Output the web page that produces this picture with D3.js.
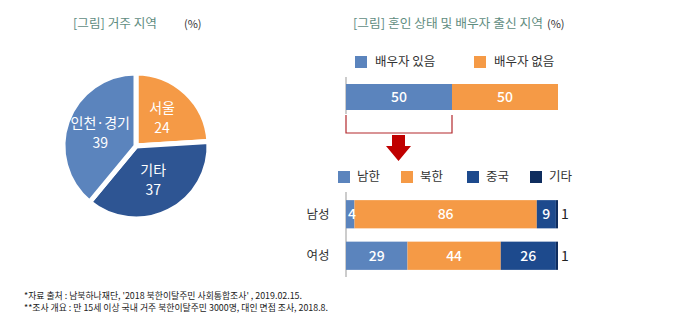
<!DOCTYPE html>
<html>
<head>
<meta charset="utf-8">
<script src="https://cdn.jsdelivr.net/npm/d3@7"></script>
<style>
  html, body { margin: 0; padding: 0; background: #fff; }
  svg { display: block; font-family: "Noto Sans CJK KR", "Noto Sans", sans-serif; }
</style>
</head>
<body>
<svg id="chart" width="690" height="326"></svg>
<script>
// ---- data ----
const regionLabels = ["서울", "기타", "인천·경기"];
const regionValues = [24, 37, 39];

const spouseLabels = ["배우자 있음", "배우자 없음"];
const spouseValues = [50, 50];

const originLabels = ["남한", "북한", "중국", "기타"];
const genderLabels = ["남성", "여성"];
const maleValues = [4, 86, 9, 1];
const femaleValues = [29, 44, 26, 1];

const notes = [
  "*자료 출처 : 남북하나재단, '2018 북한이탈주민 사회통합조사' , 2019.02.15.",
  "**조사 개요 : 만 15세 이상 국내 거주 북한이탈주민 3000명, 대인 면접 조사, 2018.8."
];

// ---- styles ----
const cLight = "#5b84bd", cOrange = "#f59a46", cDark = "#2e5593";
const cChina = "#1d4a8d", cOther = "#0f2d5e";
const titleColor = "#5f8d7f";

const svg = d3.select("#chart");

// ---- titles ----
function title(x, y, txt, len) {
  svg.append("text").attr("x", x).attr("y", y)
    .attr("font-size", 12.5).attr("fill", titleColor)
    .attr("textLength", len).attr("lengthAdjust", "spacingAndGlyphs")
    .text(txt);
}
title(73, 28, "[그림] 거주 지역", 84);
svg.append("text").attr("x", 184).attr("y", 28).attr("font-size", 11)
  .attr("fill", "#333").text("(%)");
title(353, 28, "[그림] 혼인 상태 및 배우자 출신 지역", 190);
svg.append("text").attr("x", 547).attr("y", 28).attr("font-size", 11)
  .attr("fill", "#333").text("(%)");

// ---- pie: residence ----
const pieG = svg.append("g").attr("transform", "translate(136,146)");
const pie = d3.pie().sort(null).value(d => d)(regionValues);
const arc = d3.arc().innerRadius(0).outerRadius(73);
const labelArc = d3.arc().innerRadius(38).outerRadius(38);
const pieColors = [cOrange, cDark, cLight];

pieG.selectAll("path").data(pie).join("path")
  .attr("d", arc)
  .attr("fill", (d, i) => pieColors[i])
  .attr("stroke", "#fff").attr("stroke-width", 5).attr("stroke-linejoin", "miter");

pie.forEach((d, i) => {
  const [lx, ly] = labelArc.centroid(d);
  const t = pieG.append("text")
    .attr("text-anchor", "middle").attr("fill", "#fff").attr("font-size", 14);
  t.append("tspan").attr("x", lx).attr("y", ly - 5).text(regionLabels[i]);
  t.append("tspan").attr("x", lx).attr("y", ly + 15).text(regionValues[i]);
});

// ---- shared horizontal scale ----
const x = d3.scaleLinear().domain([0, 100]).range([346, 558]);

function stack(values) {
  let acc = 0;
  return values.map(v => { const s = acc; acc += v; return { v, x0: s, x1: acc }; });
}

// ---- legend helper ----
function legend(items, colors, xs, y, textOffset) {
  items.forEach((lab, i) => {
    svg.append("rect").attr("x", xs[i]).attr("y", y - 6)
      .attr("width", 12).attr("height", 12).attr("fill", colors[i]);
    svg.append("text").attr("x", xs[i] + textOffset).attr("y", y)
      .attr("dy", "0.35em").attr("font-size", 12.5).attr("fill", "#333").text(lab);
  });
}

// ---- marital status bar ----
legend(spouseLabels, [cLight, cOrange], [355, 474], 62, 20);

const topY = 84, topH = 26;
svg.append("line").attr("x1", x(0)).attr("x2", x(0)).attr("y1", 77).attr("y2", 114)
  .attr("stroke", "#999").attr("stroke-width", 1);
const topSegs = stack(spouseValues);
svg.selectAll(".topbar").data(topSegs).join("rect")
  .attr("x", d => x(d.x0)).attr("y", topY)
  .attr("width", d => x(d.x1) - x(d.x0)).attr("height", topH)
  .attr("fill", (d, i) => [cLight, cOrange][i]);
svg.selectAll(".toplab").data(topSegs).join("text")
  .attr("x", d => (x(d.x0) + x(d.x1)) / 2).attr("y", topY + topH / 2)
  .attr("dy", "0.35em").attr("text-anchor", "middle")
  .attr("font-size", 14).attr("font-weight", 500).attr("fill", "#fff")
  .text(d => d.v);

// bracket under the "spouse present" segment
svg.append("path")
  .attr("d", `M${x(0)},115 V133 H${x(topSegs[0].x1)} V115`)
  .attr("fill", "none").attr("stroke", "#b3282d").attr("stroke-width", 1.2);

// down arrow
const ax = (x(0) + x(topSegs[0].x1)) / 2 - 0.5;
svg.append("path")
  .attr("d", `M${ax - 6.5},135 H${ax + 6.5} V146 H${ax + 12.5} L${ax},161 L${ax - 12.5},146 H${ax - 6.5} Z`)
  .attr("fill", "#c00000");

// ---- spouse origin bars ----
const originColors = [cLight, cOrange, cChina, cOther];
legend(originLabels, originColors, [338, 401, 467, 530], 177, 19);

const y = d3.scaleBand().domain(genderLabels).range([191, 279])
  .paddingInner(0.32).paddingOuter(0.22);

svg.append("line").attr("x1", x(0)).attr("x2", x(0)).attr("y1", 192).attr("y2", 277)
  .attr("stroke", "#999").attr("stroke-width", 1);

[maleValues, femaleValues].forEach((vals, gi) => {
  const g = genderLabels[gi];
  const segs = stack(vals);
  const row = svg.append("g");
  row.selectAll("rect").data(segs).join("rect")
    .attr("x", d => x(d.x0)).attr("y", y(g))
    .attr("width", d => x(d.x1) - x(d.x0)).attr("height", y.bandwidth())
    .attr("fill", (d, i) => originColors[i]);
  // values inside the first three segments, the small last one outside
  row.selectAll("text.v").data(segs).join("text")
    .attr("class", "v")
    .attr("x", (d, i) => i === 3 ? x(d.x1) + 3 : Math.max((x(d.x0) + x(d.x1)) / 2, x(d.x0) + 6))
    .attr("y", y(g) + y.bandwidth() / 2).attr("dy", "0.35em")
    .attr("text-anchor", (d, i) => i === 3 ? "start" : "middle")
    .attr("font-size", 14).attr("font-weight", (d, i) => i === 3 ? 400 : 500)
    .attr("fill", (d, i) => i === 3 ? "#222" : "#fff")
    .text(d => d.v);
  svg.append("text").attr("x", 318).attr("y", y(g) + y.bandwidth() / 2)
    .attr("dy", "0.35em").attr("text-anchor", "middle")
    .attr("font-size", 12.5).attr("fill", "#333").text(g);
});

// ---- footnotes ----
notes.forEach((n, i) => {
  svg.append("text").attr("x", 24).attr("y", 298.5 + i * 12)
    .attr("font-size", 9).attr("fill", "#222")
    .attr("textLength", i === 0 ? 278 : 304).attr("lengthAdjust", "spacingAndGlyphs")
    .text(n);
});
</script>
</body>
</html>
